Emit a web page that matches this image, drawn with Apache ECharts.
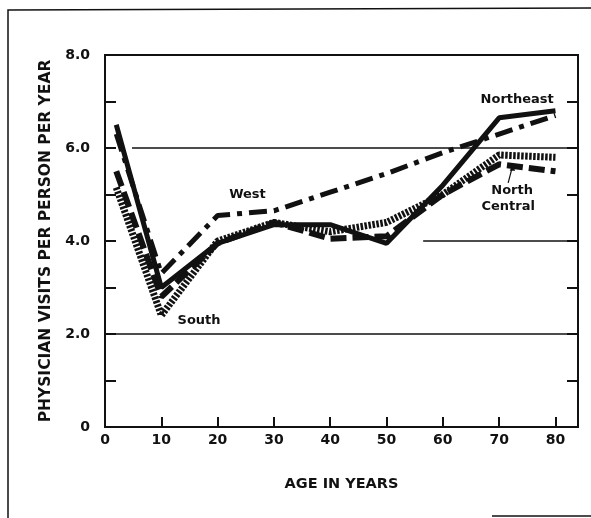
<!DOCTYPE html>
<html>
<head>
<meta charset="utf-8">
<script src="https://cdn.jsdelivr.net/npm/echarts@6/dist/echarts.min.js"></script>
<style>
html,body{margin:0;padding:0;background:#fff;}
#chart{width:591px;height:518px;}
</style>
</head>
<body>
<div id="chart"></div>
<script>
// ---- data ----
var ages = [2, 10, 20, 30, 40, 50, 60, 70, 80];
var northeast = [6.5, 3.0, 3.95, 4.35, 4.35, 3.95, 5.2, 6.65, 6.8];
var west = [6.3, 3.3, 4.55, 4.65, 5.05, 5.45, 5.9, 6.3, 6.7];
var northCentral = [5.5, 2.8, 3.95, 4.4, 4.05, 4.1, 5.0, 5.65, 5.5];
var south = [5.15, 2.4, 4.0, 4.4, 4.2, 4.4, 5.0, 5.85, 5.8];
var xTickLabels = ['0', '10', '20', '30', '40', '50', '60', '70', '80'];
var yTickLabels = ['0', '2.0', '4.0', '6.0', '8.0'];
// reference lines: [y value, x start]
var refLineValues = [6, 4, 2];
var refLineStarts = [4.8, 56.5, 0];

function pairs(ys) { return ages.map(function (a, i) { return [a, ys[i]]; }); }

var FONT = 'DejaVu Sans';
var chart = echarts.init(document.getElementById('chart'), null, {renderer: 'canvas'});

var refData = refLineValues.map(function (v, i) {
  return [{coord: [refLineStarts[i], v]}, {coord: [84, v]}];
});

var option = {
  animation: false,
  backgroundColor: '#fff',
  grid: {left: 105, right: 13, top: 55, bottom: 91, show: true, borderColor: '#111', borderWidth: 2, backgroundColor: 'transparent'},
  xAxis: {
    type: 'value', min: 0, max: 84, interval: 10,
    name: 'AGE IN YEARS', nameLocation: 'middle', nameGap: 50,
    nameTextStyle: {fontFamily: FONT, fontSize: 14.5, fontWeight: 'bold', color: '#111'},
    axisLine: {show: true, lineStyle: {color: '#111', width: 2}},
    axisTick: {show: true, inside: true, length: 10, lineStyle: {color: '#111', width: 2}},
    axisLabel: {
      fontFamily: FONT, fontSize: 14, fontWeight: 'bold', color: '#111', margin: 6, showMaxLabel: false,
      formatter: function (v) { var i = Math.round(v / 10); return (v % 10 === 0 && i < xTickLabels.length) ? xTickLabels[i] : ''; }
    },
    splitLine: {show: false}
  },
  yAxis: [{
    type: 'value', min: 0, max: 8, interval: 1, position: 'left',
    name: 'PHYSICIAN VISITS PER PERSON PER YEAR', nameLocation: 'middle', nameGap: 49,
    nameTextStyle: {fontFamily: FONT, fontSize: 15.5, fontWeight: 'bold', color: '#111'},
    axisLine: {show: true, lineStyle: {color: '#111', width: 2}},
    axisTick: {show: true, inside: true, length: 11, lineStyle: {color: '#111', width: 2}},
    axisLabel: {
      fontFamily: FONT, fontSize: 14, fontWeight: 'bold', color: '#111', margin: 15,
      formatter: function (v) { return v % 2 === 0 ? yTickLabels[v / 2] : ''; }
    },
    splitLine: {show: false}
  }, {
    type: 'value', min: 0, max: 8, interval: 1, position: 'right',
    axisLine: {show: true, lineStyle: {color: '#111', width: 2}},
    axisTick: {show: true, inside: true, length: 11, lineStyle: {color: '#111', width: 2}},
    axisLabel: {show: false},
    splitLine: {show: false}
  }],
  series: [
    {
      name: 'ref', type: 'line', data: [], silent: true,
      markLine: {silent: true, symbol: 'none', label: {show: false},
        lineStyle: {color: '#111', width: 1.5, type: 'solid'}, data: refData}
    },
    {name: 'South', type: 'line', data: pairs(south), showSymbol: false,
      lineStyle: {color: '#111', width: 7, type: [2.5, 1.5]}, z: 3},
    {name: 'North Central', type: 'line', data: pairs(northCentral), showSymbol: false,
      lineStyle: {color: '#111', width: 6, type: [16, 6]}, z: 4},
    {name: 'West', type: 'line', data: pairs(west), showSymbol: false,
      lineStyle: {color: '#111', width: 5, type: [18, 7, 5, 7]}, z: 5},
    {name: 'Northeast', type: 'line', data: pairs(northeast), showSymbol: false,
      lineStyle: {color: '#111', width: 5, type: 'solid'}, z: 6}
  ]
};
chart.setOption(option);

function px(x, y) { return chart.convertToPixel({xAxisIndex: 0, yAxisIndex: 0}, [x, y]); }
var lblStyle = {fontFamily: FONT, fontSize: 13, fontWeight: 'bold', fill: '#111'};
function txt(s, x, y) {
  var p = px(x, y);
  return {type: 'text', x: p[0], y: p[1], style: Object.assign({text: s, align: 'center', verticalAlign: 'middle'}, lblStyle), z: 10};
}
var a0 = px(71.6, 5.25), a1 = px(72.4, 5.62);
chart.setOption({
  graphic: [
    {type: 'polyline', shape: {points: [[8, 518], [8, 10], [591, 8]]}, style: {stroke: '#111', lineWidth: 1.5, fill: null}},
    {type: 'line', shape: {x1: 492, y1: 516, x2: 591, y2: 516}, style: {stroke: '#111', lineWidth: 1.5}},
    txt('West', 25.3, 5.0),
    txt('South', 16.7, 2.28),
    txt('Northeast', 73.2, 7.03),
    txt('North', 72.3, 5.08),
    txt('Central', 71.6, 4.73),
    {type: 'line', shape: {x1: a0[0], y1: a0[1], x2: a1[0], y2: a1[1]}, style: {stroke: '#111', lineWidth: 1.2}, z: 10},
    {type: 'polygon', shape: {points: [[a1[0], a1[1] - 1], [a1[0] - 3, a1[1] + 5], [a1[0] + 2.5, a1[1] + 5]]}, style: {fill: '#111'}, z: 10}
  ]
});
</script>
</body>
</html>
